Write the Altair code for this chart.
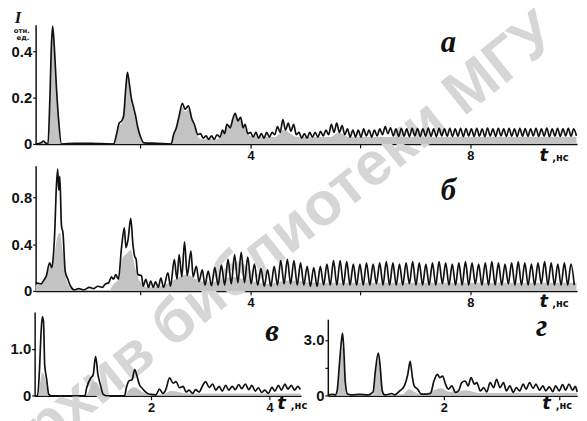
import altair as alt
import pandas as pd

# ---------------- data: panel a ----------------
A_PULSES = [(0.09, 0.0), (0.19, 0.005), (0.23, 0.012), (0.27, 0.005), (0.315, 0.0), (0.35, 0.20),
            (0.38, 0.44), (0.40, 0.51), (0.43, 0.42), (0.47, 0.24), (0.51, 0.10), (0.56, 0.0),
            (0.8, 0.003), (1.1, 0.003), (1.51, 0.0), (1.56, 0.04), (1.61, 0.09), (1.655, 0.10),
            (1.69, 0.12), (1.73, 0.24), (1.76, 0.31), (1.79, 0.27), (1.83, 0.20), (1.87, 0.16),
            (1.91, 0.12), (1.95, 0.07), (2.0, 0.03), (2.06, 0.005), (2.3, 0.003), (2.555, 0.0),
            (2.60, 0.04), (2.65, 0.07), (2.70, 0.12), (2.76, 0.176), (2.81, 0.15), (2.87, 0.165),
            (2.93, 0.11), (2.985, 0.08), (3.04, 0.04), (3.09, 0.045), (3.14, 0.025), (3.19, 0.035),
            (3.24, 0.02), (3.29, 0.035), (3.34, 0.02), (3.39, 0.04), (3.445, 0.03), (3.49, 0.06),
            (3.53, 0.045), (3.57, 0.085), (3.63, 0.07), (3.68, 0.11), (3.72, 0.133), (3.77, 0.10),
            (3.82, 0.115), (3.865, 0.07), (3.90, 0.085), (3.95, 0.045)]
A_TAIL_T0 = 4.0
A_TAIL_DT = 0.049
A_TAIL = [0.05, 0.03, 0.05, 0.025, 0.045, 0.025, 0.05, 0.03, 0.05,
          0.04, 0.075, 0.05, 0.105, 0.06, 0.09, 0.055, 0.085, 0.04,
          0.05, 0.025, 0.045, 0.025, 0.05, 0.03, 0.05, 0.03, 0.055, 0.035, 0.06,
          0.04, 0.085, 0.05, 0.09, 0.05, 0.08, 0.04,
          0.065, 0.03, 0.06, 0.03, 0.06, 0.03, 0.065, 0.035, 0.06, 0.03, 0.06, 0.035, 0.065,
          0.04, 0.075, 0.045, 0.07, 0.035,
          0.066, 0.033, 0.068, 0.034, 0.065, 0.032, 0.068, 0.035, 0.067, 0.033,
          0.066, 0.034, 0.069, 0.033, 0.066, 0.032, 0.068, 0.035, 0.066, 0.034,
          0.068, 0.033, 0.065, 0.034, 0.068, 0.032, 0.067, 0.035, 0.066, 0.033,
          0.068, 0.034, 0.066, 0.032, 0.069, 0.034, 0.066, 0.033, 0.068, 0.035,
          0.065, 0.033, 0.068, 0.034, 0.066, 0.032, 0.068, 0.034, 0.067, 0.033,
          0.066, 0.035, 0.068, 0.033, 0.066, 0.034, 0.069, 0.032, 0.066, 0.034,
          0.068, 0.033, 0.066, 0.035, 0.068, 0.034, 0.065, 0.035]
A_GRAY = [(0.09, 0), (0.315, 0), (0.35, 0.17), (0.38, 0.41), (0.40, 0.48), (0.43, 0.40), (0.47, 0.22),
          (0.51, 0.08), (0.56, 0), (1.51, 0), (1.56, 0.035), (1.61, 0.08), (1.655, 0.09), (1.69, 0.11),
          (1.73, 0.22), (1.76, 0.29), (1.79, 0.25), (1.83, 0.18), (1.87, 0.14), (1.91, 0.10), (1.95, 0.06),
          (2.0, 0.02), (2.06, 0), (2.555, 0), (2.60, 0.03), (2.65, 0.06), (2.70, 0.11), (2.76, 0.16),
          (2.81, 0.14), (2.87, 0.15), (2.93, 0.10), (2.985, 0.07), (3.04, 0.03), (3.14, 0.02), (3.39, 0.02),
          (3.49, 0.05), (3.57, 0.07), (3.68, 0.10), (3.72, 0.12), (3.82, 0.10), (3.90, 0.07), (4.0, 0.035),
          (4.45, 0.03), (4.6, 0.06), (4.85, 0.03), (5.45, 0.03), (5.6, 0.05), (5.8, 0.03), (9.93, 0.03)]

# ---------------- data: panel б ----------------
B_PULSES = [(0.09, 0.07), (0.14, 0.065), (0.19, 0.06), (0.237, 0.09), (0.286, 0.13), (0.344, 0.24),
            (0.383, 0.20), (0.413, 0.30), (0.442, 0.55), (0.462, 0.83), (0.491, 1.04), (0.511, 0.86),
            (0.53, 0.98), (0.56, 0.56), (0.589, 0.49), (0.628, 0.17), (0.677, 0.10), (0.726, 0.04),
            (0.794, 0.01), (0.872, 0.02), (0.97, 0.01), (1.068, 0.03), (1.146, 0.02), (1.224, 0.04),
            (1.303, 0.03), (1.361, 0.06), (1.42, 0.07), (1.469, 0.12), (1.508, 0.10), (1.547, 0.14),
            (1.596, 0.10), (1.655, 0.38), (1.704, 0.54), (1.733, 0.37), (1.772, 0.44), (1.821, 0.62),
            (1.86, 0.40), (1.89, 0.30), (1.919, 0.27), (1.948, 0.14), (2.017, 0.13), (2.046, 0.04),
            (2.095, 0.10), (2.144, 0.03), (2.183, 0.085), (2.232, 0.03), (2.271, 0.08), (2.32, 0.03),
            (2.369, 0.11), (2.418, 0.03), (2.496, 0.155), (2.545, 0.04), (2.613, 0.27), (2.662, 0.10),
            (2.701, 0.31), (2.75, 0.12), (2.799, 0.42), (2.848, 0.13), (2.916, 0.34), (2.955, 0.12),
            (3.014, 0.21), (3.063, 0.08), (3.122, 0.18), (3.171, 0.05)]
B_TAIL_T0 = 3.23
B_TAIL_DT = 0.06
B_TAIL = [0.17, 0.045, 0.20, 0.05, 0.22, 0.05, 0.27, 0.06, 0.31, 0.07, 0.33, 0.07, 0.29, 0.06, 0.23,
          0.05, 0.19, 0.04, 0.18, 0.04, 0.21, 0.05, 0.26, 0.06, 0.27, 0.06, 0.26, 0.05, 0.24, 0.05,
          0.21, 0.04, 0.20, 0.04, 0.21, 0.05, 0.23, 0.05, 0.26, 0.05, 0.26, 0.05, 0.25, 0.05, 0.23,
          0.05, 0.23, 0.05, 0.24, 0.05, 0.23, 0.06, 0.24, 0.05, 0.25,
          0.05, 0.24, 0.05, 0.23, 0.05, 0.24, 0.06, 0.25, 0.05, 0.24,
          0.05, 0.23, 0.05, 0.24, 0.05, 0.25, 0.06, 0.24, 0.05, 0.23,
          0.05, 0.24, 0.05, 0.25, 0.05, 0.24, 0.06, 0.23, 0.05, 0.24,
          0.05, 0.25, 0.05, 0.24, 0.05, 0.23, 0.06, 0.24, 0.05, 0.25,
          0.05, 0.24, 0.05, 0.23, 0.05, 0.24, 0.06, 0.25, 0.05, 0.24,
          0.05, 0.23, 0.05, 0.24, 0.05, 0.23, 0.05]
B_GRAY = [(0.09, 0.05), (0.237, 0.08), (0.344, 0.2), (0.413, 0.25), (0.48, 0.45), (0.53, 0.5), (0.58, 0.35),
          (0.64, 0.12), (0.726, 0.02), (0.794, 0), (1.42, 0), (1.508, 0.06), (1.6, 0.1), (1.67, 0.28),
          (1.75, 0.32), (1.82, 0.35), (1.9, 0.2), (1.99, 0.08), (2.14, 0.03), (2.42, 0.05), (2.63, 0.1),
          (2.82, 0.14), (3.02, 0.1), (3.22, 0.07), (3.7, 0.12), (3.9, 0.1), (4.3, 0.06), (4.7, 0.09),
          (5.2, 0.07), (9.93, 0.07)]

# ---------------- data: panel в ----------------
V_LINE = [(0.03, 0), (0.08, 0), (0.11, 0.5), (0.14, 1.37), (0.16, 1.68), (0.18, 1.58), (0.20, 0.66),
          (0.23, 0.38), (0.27, 0.03), (0.32, 0), (0.88, 0), (0.91, 0.17), (0.98, 0.38), (1.02, 0.45),
          (1.06, 0.84), (1.10, 0.45), (1.14, 0.24), (1.19, 0.03), (1.25, 0), (1.55, 0), (1.58, 0.17),
          (1.62, 0.31), (1.68, 0.35), (1.72, 0.56), (1.76, 0.42), (1.80, 0.24), (1.84, 0.17), (1.89, 0.10),
          (1.94, 0.05), (2.00, 0.03), (2.08, 0.02), (2.14, 0.14), (2.20, 0.05), (2.25, 0.14), (2.31, 0.38),
          (2.37, 0.27), (2.42, 0.30), (2.48, 0.17), (2.54, 0.20), (2.59, 0.08), (2.64, 0.12), (2.70, 0.05),
          (2.75, 0.13), (2.81, 0.08), (2.87, 0.22), (2.92, 0.30), (2.98, 0.18), (3.04, 0.25), (3.09, 0.12),
          (3.15, 0.20), (3.20, 0.10), (3.26, 0.22), (3.31, 0.12), (3.37, 0.20), (3.42, 0.13), (3.48, 0.24),
          (3.53, 0.15), (3.59, 0.25), (3.65, 0.13), (3.70, 0.22), (3.76, 0.10), (3.81, 0.17), (3.87, 0.07),
          (3.92, 0.12), (3.98, 0.05), (4.04, 0.18), (4.09, 0.10), (4.15, 0.22), (4.20, 0.12), (4.26, 0.25),
          (4.31, 0.14), (4.37, 0.22), (4.42, 0.12), (4.48, 0.2), (4.52, 0.13)]
V_GRAY = [(0.03, 0), (0.09, 0), (0.12, 0.25), (0.16, 0.5), (0.2, 0.4), (0.25, 0.1), (0.28, 0), (0.9, 0),
          (0.96, 0.15), (1.03, 0.3), (1.08, 0.28), (1.14, 0.12), (1.2, 0), (1.56, 0), (1.62, 0.12),
          (1.72, 0.18), (1.85, 0.08), (2.0, 0.02), (2.2, 0.04), (2.35, 0.1), (2.6, 0.05), (4.52, 0.05)]

# ---------------- data: panel г ----------------
G_LINE = [(0.0, 0.05), (0.08, 0.08), (0.13, 0.05), (0.16, 0.26), (0.20, 1.67), (0.24, 3.08), (0.255, 3.35),
          (0.28, 2.2), (0.30, 0.79), (0.34, 0.09), (0.4, 0.05), (0.55, 0.07), (0.7, 0.05), (0.78, 0.2),
          (0.82, 1.32), (0.87, 2.29), (0.90, 1.67), (0.94, 0.26), (0.98, 0.05), (1.05, 0.08), (1.1, 0.12),
          (1.15, 0.05), (1.24, 0.26), (1.32, 0.53), (1.38, 1.15), (1.42, 1.85), (1.46, 0.97), (1.49, 0.53),
          (1.55, 0.35), (1.61, 0.09), (1.69, 0.09), (1.77, 0.12), (1.83, 0.79), (1.89, 1.15), (1.93, 0.97),
          (1.98, 1.06), (2.03, 0.62), (2.08, 0.35), (2.14, 0.53), (2.20, 0.18), (2.26, 0.3), (2.31, 0.7),
          (2.37, 0.79), (2.42, 0.53), (2.47, 0.97), (2.53, 0.62), (2.57, 0.7), (2.63, 0.26), (2.69, 0.44),
          (2.74, 0.2), (2.80, 0.7), (2.86, 0.44), (2.91, 0.88), (2.97, 0.44), (3.03, 0.7), (3.08, 0.26),
          (3.14, 0.53), (3.20, 0.18), (3.25, 0.44), (3.31, 0.26), (3.37, 0.62), (3.42, 0.35), (3.48, 0.70),
          (3.54, 0.40), (3.59, 0.62), (3.65, 0.30), (3.71, 0.53), (3.76, 0.26), (3.82, 0.48), (3.88, 0.22),
          (3.93, 0.53), (3.99, 0.26), (4.05, 0.60), (4.10, 0.30), (4.16, 0.62), (4.22, 0.30), (4.27, 0.50),
          (4.30, 0.2)]
G_GRAY = [(0.0, 0), (0.15, 0), (0.2, 1.2), (0.24, 2.4), (0.26, 2.6), (0.29, 1.5), (0.33, 0.1), (0.4, 0.05),
          (0.78, 0.05), (0.82, 1.0), (0.87, 1.9), (0.9, 1.4), (0.95, 0.15), (1.0, 0.05), (1.3, 0.1),
          (1.4, 0.35), (1.5, 0.2), (1.6, 0.08), (1.83, 0.3), (1.95, 0.4), (2.1, 0.2), (2.4, 0.3),
          (2.6, 0.15), (4.3, 0.15)]

# ---------------- ticks and labels ----------------
A_YLAB = {0: "0", 0.2: "0.2", 0.4: "0.4"}
A_XTICKS = [2, 4, 6, 8]
A_XLAB = {4: "4", 8: "8"}
B_YLAB = {0: "0", 0.4: "0.4", 0.8: "0.8"}
B_XTICKS = [2, 4, 6, 8]
B_XLAB = {4: "4", 8: "8"}
V_YLAB = {0: "0", 1.0: "1.0"}
V_XTICKS = [2, 4]
V_XLAB = {2: "2", 4: "4"}
G_YLAB = {0: "0", 1.5: "", 3.0: "3.0"}
G_XTICKS = [2, 4]
G_XLAB = {2: "2"}
WATERMARK = "Архив библиотеки МГУ"

W, H = 579, 413
INK = "#111111"
FILL = "#c3c3c3"


def pairs_df(p):
    return pd.DataFrame(p, columns=["t", "v"])


def line_df(pulses, t0, dt, tail):
    d1 = pairs_df(pulses)
    d2 = pd.DataFrame({"t": [t0 + i * dt for i in range(len(tail))], "v": tail})
    return pd.concat([d1, d2], ignore_index=True)


def lab_expr(d):
    s = "''"
    for k, v in reversed(list(d.items())):
        s = f"datum.value == {k} ? '{v}' : {s}"
    return s


def axis(orient, offset, values, labels, size):
    return alt.Axis(orient=orient, offset=offset, values=values, labelExpr=lab_expr(labels),
                    title=None, grid=False, domainColor=INK, domainWidth=1.5, tickColor=INK,
                    tickWidth=1.2, tickSize=3 if orient == "left" else 4,
                    labelPadding=1 if orient == "left" else 2,
                    labelFont="Liberation Sans", labelFontWeight="bold", labelFontSize=size,
                    labelColor=INK, labelFlush=False)


def panel(ldf, gdf, xdom, xr, ydom, yr, yvals_lab, xticks, xlab, annots):
    X = alt.X("t:Q", scale=alt.Scale(domain=xdom, range=xr, nice=False, zero=False),
              axis=axis("bottom", yr[0] - H, xticks, xlab, 13))
    Y = alt.Y("v:Q", scale=alt.Scale(domain=ydom, range=yr, nice=False, zero=False),
              axis=axis("left", -xr[0], list(yvals_lab.keys()), yvals_lab, 15))
    area = alt.Chart(gdf).mark_area(color=FILL, interpolate="monotone").encode(x=X, y=Y)
    line = alt.Chart(ldf).mark_line(color=INK, strokeWidth=1.7, interpolate="monotone").encode(x=X, y=Y)
    layers = [area, line]
    for (t, v, label, font, size, style, align) in annots:
        d = pd.DataFrame({"t": [t], "v": [v], "label": [label]})
        layers.append(alt.Chart(d).mark_text(font=font, fontSize=size, fontWeight="bold",
                                             fontStyle=style, align=align, baseline="alphabetic",
                                             color=INK).encode(x=X, y=Y, text="label:N"))
    return alt.layer(*layers)


SERIF = "Liberation Serif"
SANS = "DejaVu Sans"

pa = panel(line_df(A_PULSES, A_TAIL_T0, A_TAIL_DT, A_TAIL), pairs_df(A_GRAY),
           [0.09, 9.94], [28, 577], [0, 0.516], [135, 14], A_YLAB, A_XTICKS, A_XLAB,
           [(7.6, 0.396, "a", SERIF, 31, "italic", "center"),
            (9.256, -0.072, "t", SANS, 18, "italic", "left"),
            (9.49, -0.072, ",нс", SANS, 10, "normal", "left"),
            (-0.29, 0.522, "I", SERIF, 17, "italic", "left"),
            (-0.16, 0.478, "отн.", SANS, 7, "normal", "center"),
            (-0.14, 0.449, "ед.", SANS, 7, "normal", "center")])

pb = panel(line_df(B_PULSES, B_TAIL_T0, B_TAIL_DT, B_TAIL), pairs_df(B_GRAY),
           [0.09, 9.94], [28, 577], [0, 1.07], [284, 157], B_YLAB, B_XTICKS, B_XLAB,
           [(7.6, 0.775, "б", SERIF, 31, "italic", "center"),
            (9.256, -0.135, "t", SANS, 18, "italic", "left"),
            (9.49, -0.135, ",нс", SANS, 10, "normal", "left")])

pv = panel(pairs_df(V_LINE), pairs_df(V_GRAY),
           [0.03, 4.53], [27, 297], [0, 1.786], [390.3, 305.3], V_YLAB, V_XTICKS, V_XLAB,
           [(4.045, 1.16, "в", SERIF, 31, "italic", "center"),
            (4.13, -0.29, "t", SANS, 18, "italic", "left"),
            (4.36, -0.29, ",нс", SANS, 10, "normal", "left")])

pg = panel(pairs_df(G_LINE), pairs_df(G_GRAY),
           [0.0, 4.3], [324.3, 577.1], [0, 4.1], [390.3, 312.7], G_YLAB, G_XTICKS, G_XLAB,
           [(3.69, 3.19, "г", SERIF, 31, "italic", "center"),
            (3.70, -0.725, "t", SANS, 18, "italic", "left"),
            (3.93, -0.725, ",нс", SANS, 10, "normal", "left")])

wm = alt.Chart(pd.DataFrame({"label": [WATERMARK]})).mark_text(
    font="Liberation Sans", fontSize=62, fontWeight="bold", color="#d6d6d6",
    angle=321.5, align="center", baseline="middle").encode(
    x=alt.value(269), y=alt.value(237), text="label:N")

chart = alt.layer(wm, pa, pb, pv, pg).resolve_scale(
    x="independent", y="independent").properties(
    width=W, height=H, padding=0, background="white",
    autosize=alt.AutoSizeParams(type="none")).configure_view(strokeWidth=0)

chart.save("out.html", embed_options={"renderer": "svg", "actions": False})
